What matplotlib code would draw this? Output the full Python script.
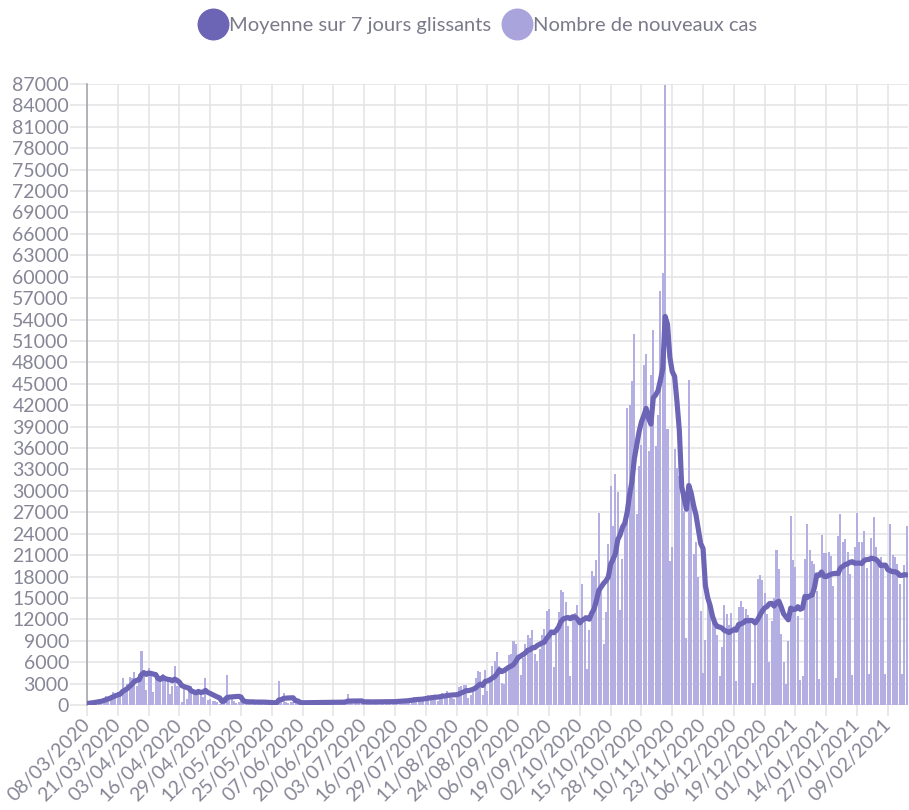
import matplotlib
matplotlib.use("Agg")
import matplotlib.pyplot as plt
import numpy as np
import pandas as pd
from matplotlib.lines import Line2D


LINE = "#6c64b4"
BAR = "#b3afe2"
BAR_LEGEND = "#a9a4dc"
GRID = "#e3e3e6"
TEXT = "#868696"

START = "2020-03-08"

# daily new cases (one list per month)
cases_mar_2020 = [210, 290, 370, 500, 600, 790, 840, 920, 1210, 1100, 1400, 1860,
                  1620, 1850, 1560, 3840, 2450, 2930, 3920, 3810, 4610, 2600, 4380, 7580]
cases_apr_2020 = [4860, 2120, 5230, 4270, 1870, 3910, 3780, 3880, 4290, 3940, 3510, 1610,
                  2670, 5500, 2630, 2640, 400, 2570, 790, 2050, 2670, 1830, 1650, 1770,
                  1540, 1100, 3780, 700, 800, 500]
cases_may_2020 = [600, 400, 200, 200, 1150, 4200, 1000, 800, 580, 320, 450, 520,
                  350, 400, 560, 480, 350, 250, 520, 400, 450, 380, 350, 200,
                  120, 300, 350, 3300, 600, 1700, 400]
cases_jun_2020 = [250, 400, 450, 400, 380, 200, 150, 300, 350, 520, 450, 420,
                  230, 200, 350, 400, 460, 450, 480, 260, 220, 380, 460, 500,
                  520, 1500, 300, 250, 400, 480]
cases_jul_2020 = [560, 520, 580, 350, 250, 300, 500, 550, 600, 550, 400, 250,
                  300, 450, 650, 700, 750, 550, 400, 400, 650, 900, 1000, 1100,
                  900, 500, 600, 900, 1300, 1350, 1400]
cases_aug_2020 = [1350, 800, 600, 1400, 1700, 1600, 1900, 1600, 1000, 800, 1400, 2520,
                  2670, 2850, 2860, 1000, 1350, 2240, 3780, 4770, 4590, 1400, 4900, 1960,
                  3300, 5430, 6110, 7380, 5450, 3100, 3000]
cases_sep_2020 = [4980, 7020, 7160, 8980, 8550, 7070, 4200, 6540, 8580, 9840, 9410, 10560,
                  7180, 6160, 7850, 9780, 10590, 13220, 13500, 10570, 5300, 10010, 13070, 16100,
                  15800, 14410, 11120, 4070, 12000, 12850]
cases_oct_2020 = [13970, 12150, 16970, 12570, 5080, 10490, 18750, 18130, 20340, 26900, 16100, 8510,
                  12990, 22590, 30620, 25090, 32430, 29840, 13240, 20470, 26680, 41620, 42030, 45420,
                  52010, 26770, 33420, 36440, 47640, 49220, 35640]
cases_nov_2020 = [46290, 52520, 36330, 40560, 58050, 60490, 86850, 38620, 20160, 22180, 35880, 33170,
                  32100, 32000, 27230, 9410, 45520, 28380, 21150, 22880, 17880, 13160, 4450, 9160,
                  16280, 13560, 12460, 11220, 9780, 4010]
cases_dec_2020 = [8080, 14000, 12700, 11220, 12920, 11020, 3410, 13710, 14600, 13750, 13410, 12600,
                  11530, 3060, 11530, 17620, 18250, 17570, 15670, 12800, 5960, 11800, 14930, 21700,
                  19000, 10000, 6000, 2960, 8900, 26460, 20260]
cases_jan_2021 = [19350, 12490, 3470, 4020, 20490, 25380, 21700, 20180, 19810, 15940, 3580, 23850,
                  21230, 21270, 21410, 20900, 16640, 3740, 23610, 26780, 22850, 23290, 21410, 18350,
                  4240, 22090, 26920, 22860, 22900, 24390, 19240]
cases_feb_2021 = [4350, 23340, 26360, 22140, 20590, 20700, 19720, 4320, 18870, 25390, 21060, 20700,
                  19720, 17000, 4380, 19590, 25020]

legend_labels = ["Moyenne sur 7 jours glissants", "Nombre de nouveaux cas"]


def main():
    plt.rcParams["font.family"] = ["Lato", "DejaVu Sans"]

    cases = np.array(cases_mar_2020 + cases_apr_2020 + cases_may_2020 + cases_jun_2020
                     + cases_jul_2020 + cases_aug_2020 + cases_sep_2020 + cases_oct_2020
                     + cases_nov_2020 + cases_dec_2020 + cases_jan_2021 + cases_feb_2021)
    dates = pd.date_range(START, periods=len(cases), freq="D")
    days = np.arange(len(cases))
    avg7 = pd.Series(cases).rolling(7, min_periods=1).mean()

    fig = plt.figure(figsize=(9.09, 8.10), dpi=100, facecolor="white")
    ax = fig.add_axes([87 / 909, 1 - 705 / 810, 821 / 909, 621 / 810])

    ax.bar(days, cases, width=0.85, color=BAR, lw=0, zorder=2)
    ax.plot(days, avg7, color=LINE, lw=3.7, zorder=3,
            solid_capstyle="round", solid_joinstyle="round")

    ax.set_xlim(0, len(cases) - 0.5)
    ax.set_ylim(0, 87000)

    ax.set_yticks(np.arange(0, 87001, 3000))
    tick_days = days[::13]
    ax.set_xticks(tick_days)
    ax.set_xticklabels([dates[d].strftime("%d/%m/%Y") for d in tick_days],
                       rotation=45, ha="right", va="center", rotation_mode="anchor")

    ax.grid(True, color=GRID, lw=1.1, zorder=0)
    ax.set_axisbelow(True)
    ax.tick_params(axis="y", length=12, width=1.1, color=GRID, labelcolor=TEXT,
                   labelsize=14, pad=1)
    ax.tick_params(axis="x", length=8, width=1.1, color=GRID, labelcolor=TEXT,
                   labelsize=14, pad=4)

    for side in ["top", "right", "bottom"]:
        ax.spines[side].set_visible(False)
    ax.spines["left"].set_color("#a0a0a8")
    ax.spines["left"].set_linewidth(1.1)
    ax.axhline(0, color=GRID, lw=1.1, zorder=1)

    handles = [
        Line2D([], [], marker="o", ls="", ms=22, mfc=LINE, mec=LINE),
        Line2D([], [], marker="o", ls="", ms=22, mfc=BAR_LEGEND, mec=BAR_LEGEND),
    ]
    fig.legend(handles, legend_labels, loc="center", bbox_to_anchor=(0.527, 0.968),
               ncol=2, frameon=False, fontsize=14.5, handletextpad=0.2,
               columnspacing=0.7, labelcolor="#7a7a8a", handlelength=1.2)

    fig.savefig("out.png", dpi=100, facecolor="white")


if __name__ == "__main__":
    main()
